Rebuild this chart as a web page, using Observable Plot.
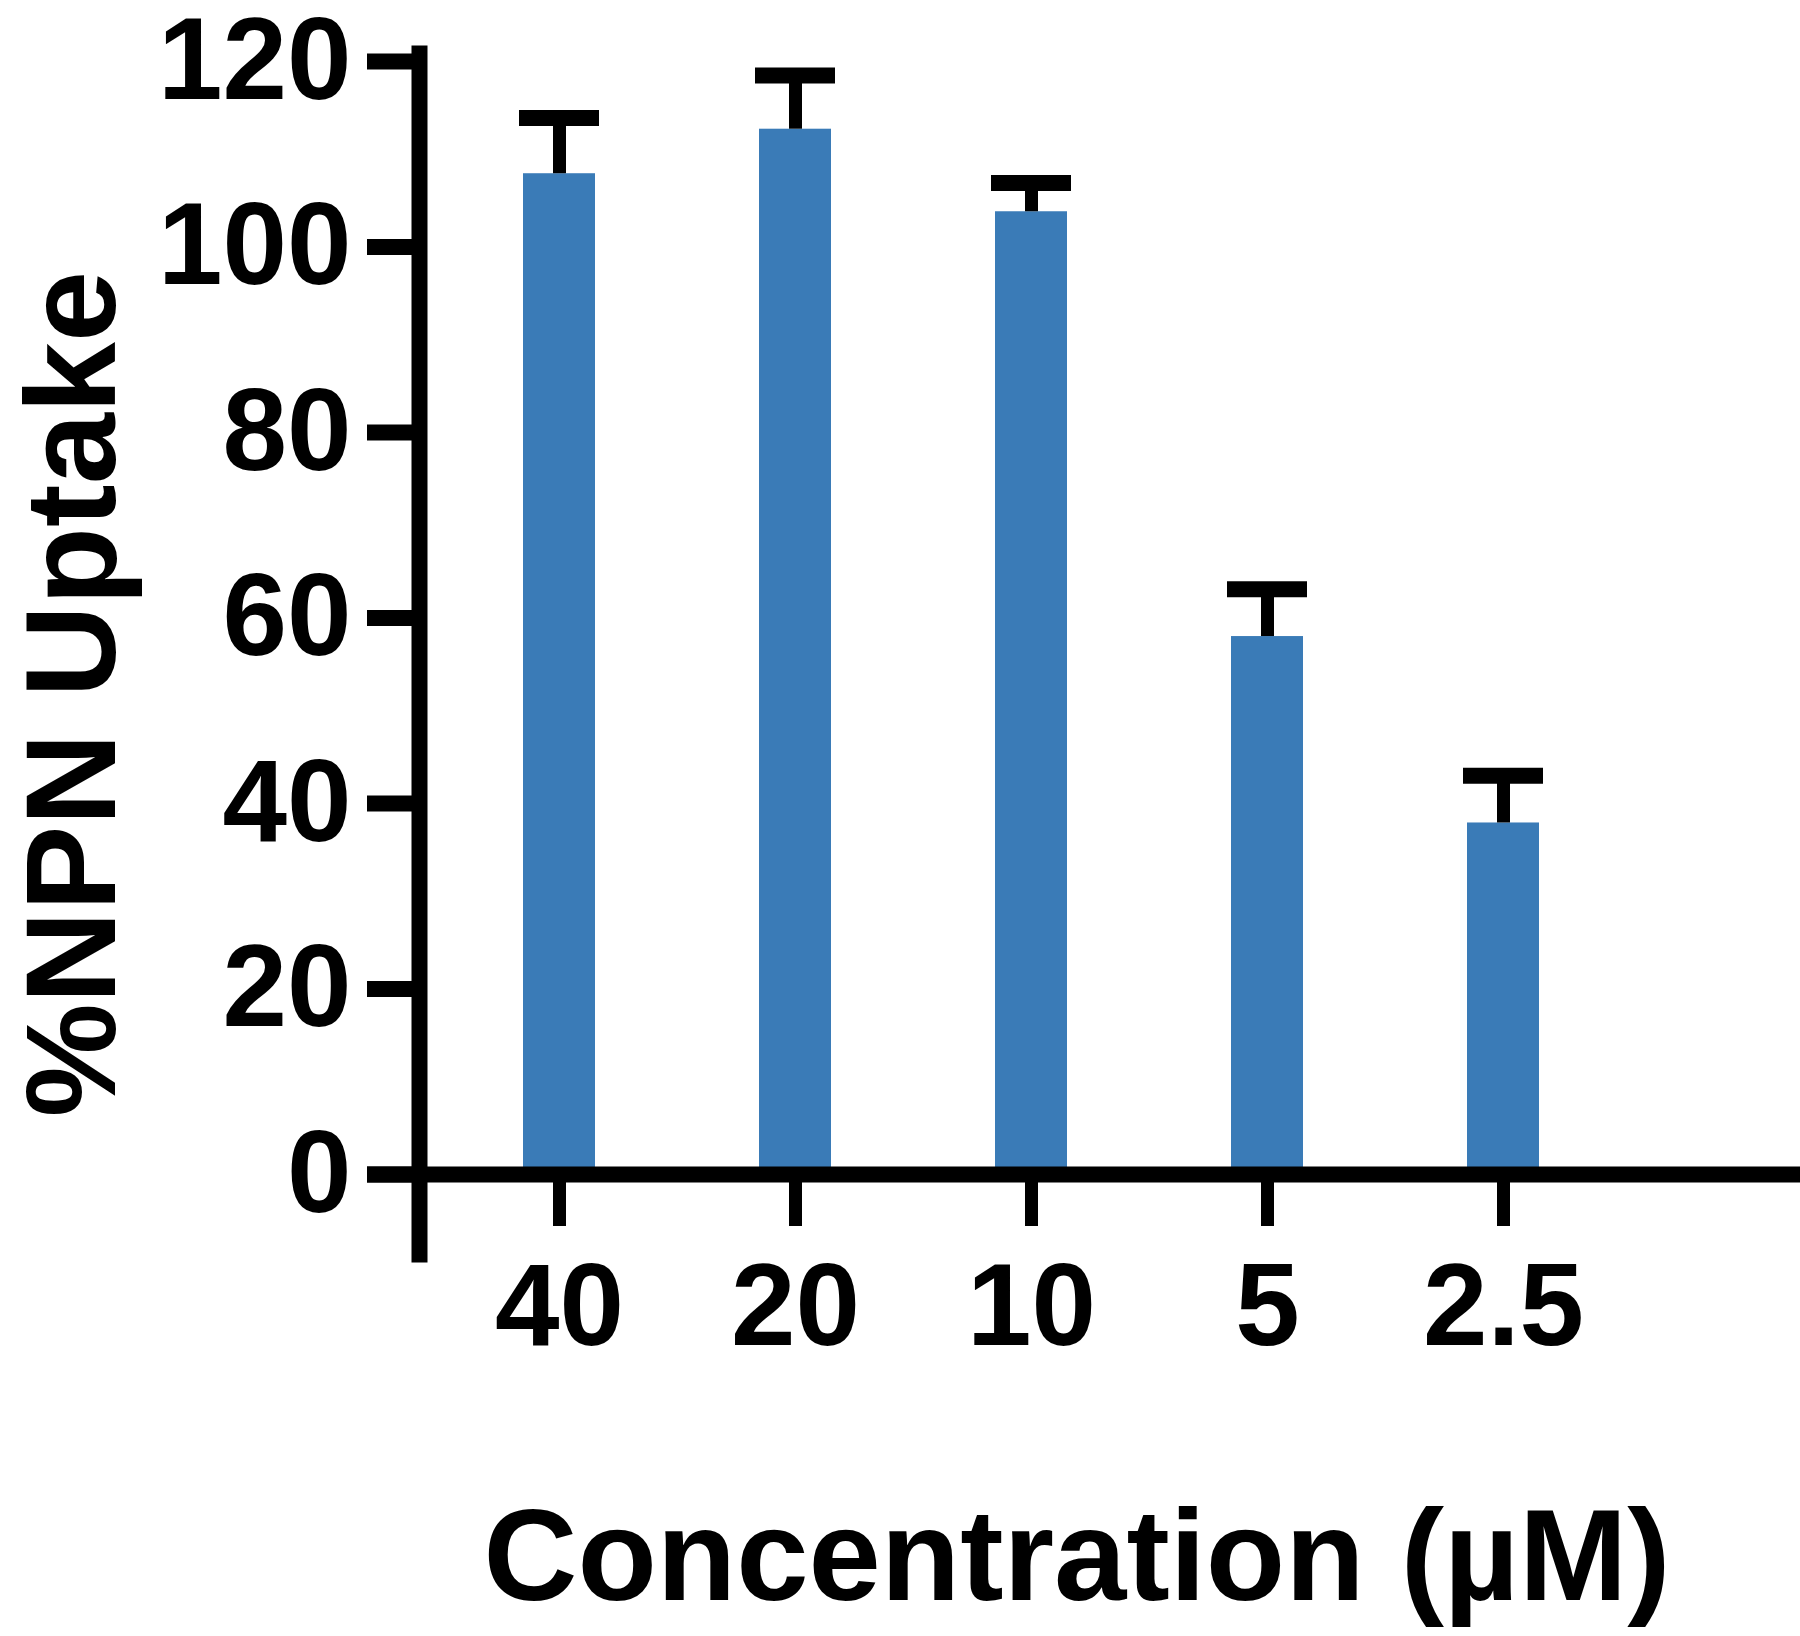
<!DOCTYPE html>
<html>
<head>
<meta charset="utf-8">
<script src="https://cdn.jsdelivr.net/npm/d3@7"></script>
<script src="https://cdn.jsdelivr.net/npm/@observablehq/plot@0.6"></script>
<style>
  html, body { margin: 0; padding: 0; background: #fff; }
  svg { display: block; overflow: visible; }
</style>
</head>
<body>
<script>
// ---- data ----
const concentrations = ["40", "20", "10", "5", "2.5"];
const uptake = [107.9, 112.7, 103.8, 58.0, 37.9];
const uptakeErr = [6.0, 5.8, 3.1, 5.1, 5.1];
const yTicks = [0, 20, 40, 60, 80, 100, 120];
const yTitle = "%NPN Uptake";
const xTitle = "Concentration (µM)";

const data = concentrations.map((c, i) => ({conc: c, value: uptake[i], err: uptakeErr[i]}));

const W = 1800, H = 1636;
const marginLeft = 419, marginRight = 0, marginTop = 61, marginBottom = 462;
const barColor = "#3a7bb7";

const chart = Plot.plot({
  width: W,
  height: H,
  marginLeft, marginRight, marginTop, marginBottom,
  style: {fontFamily: "'Liberation Sans', Arial, sans-serif", fontWeight: "bold", color: "#000", background: "#fff", overflow: "visible"},
  x: {domain: concentrations, range: [522, 1540], paddingInner: 0.696, paddingOuter: 0, axis: null},
  y: {domain: [0, 120], axis: null},
  marks: [
    Plot.barY(data, {x: "conc", y: "value", fill: barColor}),
    // error stems
    Plot.ruleX(data, {x: "conc", y1: "value", y2: d => d.value + d.err, stroke: "#000", strokeWidth: 13}),
    // error caps
    Plot.tickY(data, {x: "conc", y: d => d.value + d.err, stroke: "#000", strokeWidth: 16, insetLeft: -4, insetRight: -4}),
    // y axis
    Plot.axisY({ticks: yTicks, tickSize: 52, tickPadding: 16, strokeWidth: 16, fontSize: 116, fontWeight: "bold", label: null, tickFormat: d => String(d)}),
    // x axis
    Plot.axisX({tickSize: 52, tickPadding: 36, strokeWidth: 13, fontSize: 116, fontWeight: "bold", label: null}),
    // axis lines
    Plot.ruleY([0], {stroke: "#000", strokeWidth: 16, insetLeft: -52}),
    Plot.frame({anchor: "left", stroke: "#000", strokeWidth: 16, insetTop: -8, insetBottom: -80}),
    // titles
    Plot.text([yTitle], {frameAnchor: "left", rotate: -90, textAnchor: "middle", lineAnchor: "bottom", dx: -305, dy: 76, fontSize: 128, fontWeight: "bold", fill: "#000"}),
    Plot.text([xTitle], {frameAnchor: "bottom", textAnchor: "middle", lineAnchor: "bottom", dx: -33, dy: 425, fontSize: 130, fontWeight: "bold", fill: "#000"})
  ]
});
document.body.appendChild(chart);
</script>
</body>
</html>
